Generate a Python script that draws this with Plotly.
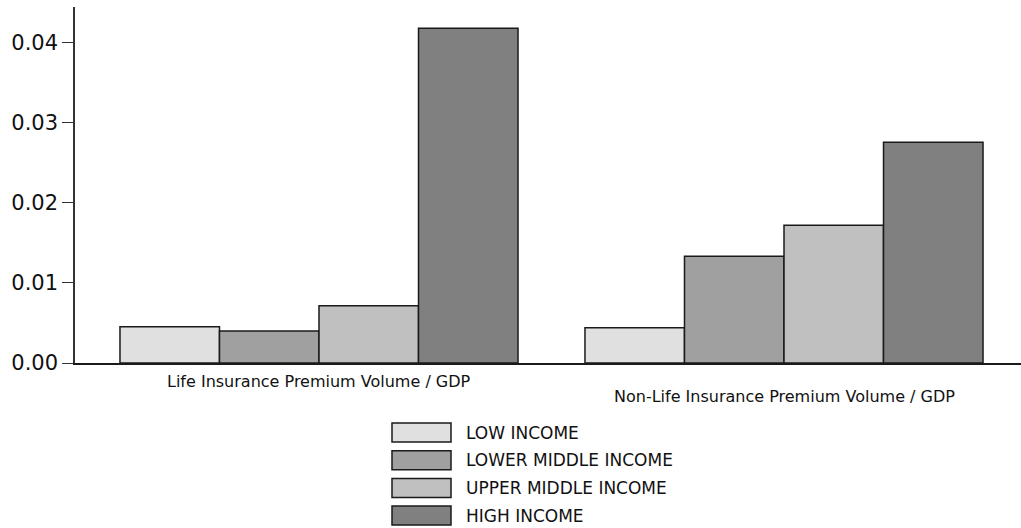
import plotly.graph_objects as go

categories = ["Life Insurance Premium Volume / GDP", "Non-Life Insurance Premium Volume / GDP"]
series_names = ["LOW INCOME", "LOWER MIDDLE INCOME", "UPPER MIDDLE INCOME", "HIGH INCOME"]
low_income = [0.00453, 0.00440]
lower_middle = [0.00400, 0.01332]
upper_middle = [0.00715, 0.01720]
high_income = [0.04180, 0.02755]
y_ticks = [0.00, 0.01, 0.02, 0.03, 0.04]

series_values = [low_income, lower_middle, upper_middle, high_income]
colors = ["#e0e0e0", "#a0a0a0", "#c0c0c0", "#808080"]

W, H = 1021, 528
ML, MR, MT, MB = 75, 0, 7, 165
PW, PH = W - ML - MR, H - MT - MB

x_pos = list(range(len(categories)))

fig = go.Figure()
for name, vals, col in zip(series_names, series_values, colors):
    fig.add_trace(go.Bar(
        x=x_pos, y=vals, name=name,
        marker=dict(color=col, line=dict(color="#1a1a1a", width=1.5)),
        showlegend=False,
    ))

font_family = "DejaVu Sans, Liberation Sans, Arial, sans-serif"

# category labels (staggered)
annotations = []
for i, cat in enumerate(categories):
    annotations.append(dict(
        x=i, y=0, xref="x", yref="y", text=cat, showarrow=False,
        yanchor="middle", xanchor="center", yshift=-18 - 15 * i,
        font=dict(family=font_family, size=16, color="#111"),
    ))

# legend drawn as boxes + labels
def px_x(p):
    return (p - ML) / PW

def px_y(p):
    return (H - MB - p) / PH

shapes = []
row_top = 423
row_step = 27.7
for k, (name, col) in enumerate(zip(series_names, colors)):
    top = row_top + k * row_step
    shapes.append(dict(
        type="rect", xref="paper", yref="paper",
        x0=px_x(392), x1=px_x(451), y0=px_y(top + 19), y1=px_y(top),
        fillcolor=col, line=dict(color="#1a1a1a", width=1.5),
    ))
    annotations.append(dict(
        x=px_x(464), y=px_y(top + 9.5), xref="paper", yref="paper",
        text=name, showarrow=False, xanchor="left", yanchor="middle",
        font=dict(family=font_family, size=17, color="#111"),
    ))

x_left = -(319 - ML) / 465
x_right = 1 + (W - MR - 784) / 465

fig.update_layout(
    width=W, height=H,
    margin=dict(l=ML, r=MR, t=MT, b=MB, pad=0),
    plot_bgcolor="white", paper_bgcolor="white",
    barmode="group", bargap=0.144, bargroupgap=0,
    annotations=annotations, shapes=shapes,
    font=dict(family=font_family, color="#111"),
    xaxis=dict(
        range=[x_left, x_right], showticklabels=False, ticks="",
        showline=True, linecolor="#1a1a1a", linewidth=1.5,
        showgrid=False, zeroline=False,
    ),
    yaxis=dict(
        range=[0, 0.04444], tickvals=y_ticks, tickformat=".2f",
        ticks="outside", ticklen=11, tickwidth=1.2, tickcolor="#333",
        showline=True, linecolor="#333", linewidth=1.5,
        showgrid=False, zeroline=False,
        tickfont=dict(family=font_family, size=21, color="#111"),
    ),
)

fig.write_html(
    "out.html",
    config={"displayModeBar": False},
    post_script="document.body.style.margin='0';document.body.style.padding='0';",
)
